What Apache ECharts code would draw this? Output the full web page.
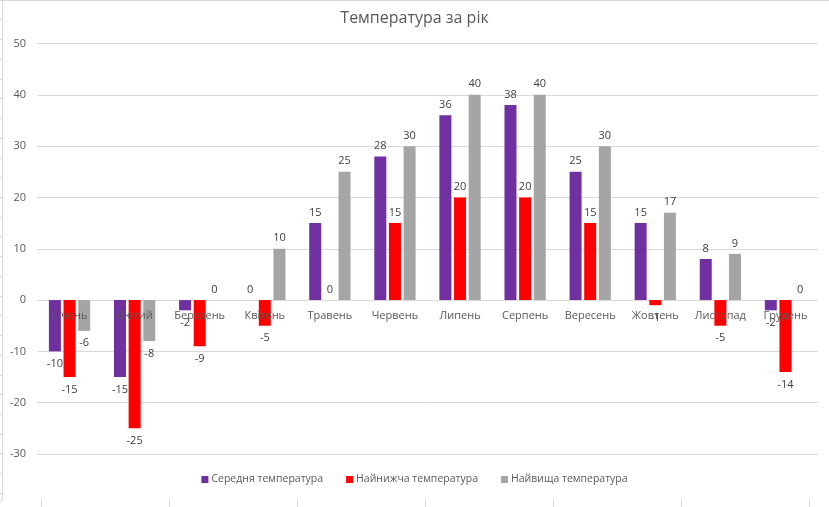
<!DOCTYPE html>
<html>
<head>
<meta charset="utf-8">
<script src="https://cdn.jsdelivr.net/npm/echarts@6/dist/echarts.min.js"></script>
<style>html,body{margin:0;padding:0;background:#fff}#c{width:829px;height:507px}</style>
</head>
<body>
<div id="c"></div>
<script>
const titleText = "Температура за рік";
const months = ["Січень","Лютий","Березень","Квітень","Травень","Червень","Липень","Серпень","Вересень","Жовтень","Листопад","Грудень"];
const seriesNames = ["Середня температура","Найнижча температура","Найвища температура"];
const avgTemp = [-10, -15, -2, 0, 15, 28, 36, 38, 25, 15, 8, -2];
const minTemp = [-15, -25, -9, -5, 0, 15, 20, 20, 15, -1, -5, -14];
const maxTemp = [-6, -8, 0, 10, 25, 30, 40, 40, 30, 17, 9, 0];
const colors = ["#7030A0", "#FF0000", "#A5A5A5"];
const yMin = -30, yMax = 50, yStep = 10;

const FONT = "'Open Sans', sans-serif";
const grid = "#D9D9D9";
const textCol = "#595959";

const gTop = 43.5, gBottom = 53, H = 507;
const plotH = H - gTop - gBottom;
const zeroOffset = -plotH * (0 - yMin) / (yMax - yMin);

function items(arr) {
  return arr.map(v => ({ value: v, label: { position: v < 0 ? 'bottom' : 'top', distance: v < 0 ? 7 : 5 } }));
}
function barSeries(name, arr, color) {
  return {
    name, type: 'bar', xAxisIndex: 0, yAxisIndex: 0, z: 2,
    data: items(arr), barWidth: 12, barGap: '22%',
    itemStyle: { color },
    label: { show: true, color: '#404040', fontSize: 11, fontFamily: FONT },
    emphasis: { disabled: true }
  };
}

const chart = echarts.init(document.getElementById('c'), null, { renderer: 'canvas' });
chart.setOption({
  animation: false,
  title: { text: titleText, left: 'center', top: 5, textStyle: { color: textCol, fontSize: 16, fontWeight: 'normal', fontFamily: FONT } },
  legend: {
    data: seriesNames, bottom: 17, left: 'center', icon: 'rect', itemWidth: 7, itemHeight: 7, itemGap: 23,
    textStyle: { color: textCol, fontSize: 10.5, fontFamily: FONT, padding: [0, 0, 0, -2] }
  },
  grid: [
    { left: 37, right: 11, top: gTop, bottom: gBottom, containLabel: false },
    { left: 2, right: 0, top: -7, bottom: 7 },
    { left: 41, right: 20, top: -7, bottom: 7 }
  ],
  xAxis: [
    { type: 'category', gridIndex: 0, data: months, position: 'bottom', offset: zeroOffset,
      axisLine: { show: false, onZero: false, lineStyle: { color: grid } },
      axisTick: { show: false },
      axisLabel: { color: textCol, fontSize: 11, fontFamily: FONT, margin: 10, interval: 0 },
      z: 10
    },
    { type: 'value', gridIndex: 1, min: 0, max: 10, axisLine: { show: true, lineStyle: { color: grid } }, axisTick: { show: false }, axisLabel: { show: false }, splitLine: { show: false } },
    { type: 'category', gridIndex: 2, data: months, axisLine: { show: false }, axisTick: { show: true, length: 7, lineStyle: { color: grid } }, axisLabel: { show: false }, splitLine: { show: false } }
  ],
  yAxis: [
    { type: 'value', gridIndex: 0, min: yMin, max: yMax, interval: yStep,
      axisLine: { show: false }, axisTick: { show: false },
      axisLabel: { color: textCol, fontSize: 11, fontFamily: FONT, margin: 11 },
      splitLine: { lineStyle: { color: grid } }
    },
    { type: 'value', gridIndex: 1, inverse: true, min: 0, max: 507, interval: 20,
      axisLine: { show: true, lineStyle: { color: grid } }, axisTick: { show: true, length: 2, lineStyle: { color: grid } },
      axisLabel: { show: false }, splitLine: { show: false } },
    { type: 'value', gridIndex: 2, show: false }
  ],
  series: [
    barSeries(seriesNames[0], avgTemp, colors[0]),
    barSeries(seriesNames[1], minTemp, colors[1]),
    barSeries(seriesNames[2], maxTemp, colors[2])
  ]
});
</script>
</body>
</html>
